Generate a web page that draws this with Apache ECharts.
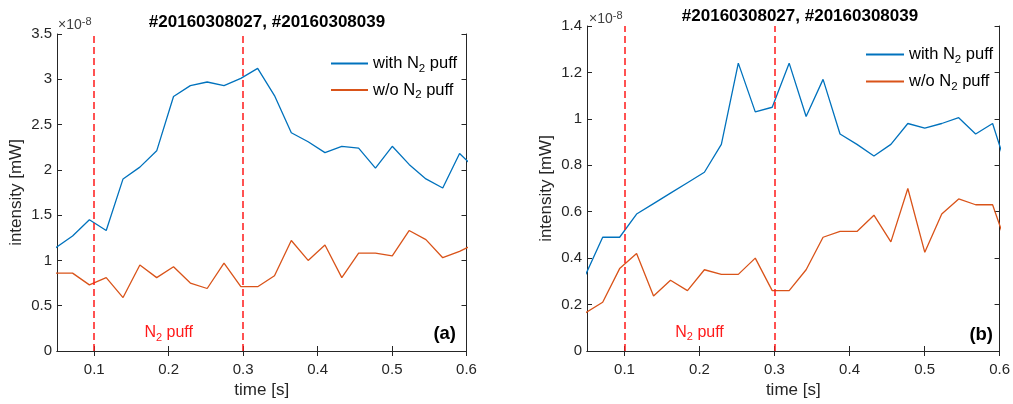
<!DOCTYPE html>
<html><head><meta charset="utf-8">
<script src="https://cdn.jsdelivr.net/npm/echarts@6/dist/echarts.min.js"></script>
<style>html,body{margin:0;padding:0;background:#fff}#c{width:1013px;height:404px}</style>
</head><body><div id="c"></div>
<script>
// ---- data (intensity in units of 1e-8 mW) ----
const times = [0.0483, 0.0709, 0.0935, 0.1161, 0.1387, 0.1613, 0.1839, 0.2065, 0.2291, 0.2517, 0.2743, 0.2969, 0.3195,
  0.3421, 0.3647, 0.3873, 0.4099, 0.4325, 0.4551, 0.4777, 0.5003, 0.5229, 0.5455, 0.5681, 0.5907, 0.6133];
const withPuffA = [1.14, 1.27, 1.45, 1.33, 1.90, 2.03, 2.21, 2.81, 2.93, 2.97, 2.93, 3.01, 3.12,
  2.82, 2.41, 2.31, 2.19, 2.26, 2.24, 2.02, 2.26, 2.06, 1.90, 1.80, 2.18, 2.00];
const woPuffA = [0.86, 0.86, 0.73, 0.81, 0.59, 0.95, 0.81, 0.93, 0.75, 0.69, 0.97, 0.71, 0.71,
  0.83, 1.22, 1.00, 1.17, 0.81, 1.08, 1.08, 1.05, 1.33, 1.23, 1.03, 1.10, 1.19];
const withPuffB = [0.33, 0.49, 0.49, 0.59, 0.635, 0.68, 0.725, 0.77, 0.89, 1.24, 1.03, 1.05, 1.24,
  1.01, 1.17, 0.935, 0.89, 0.84, 0.89, 0.98, 0.96, 0.98, 1.005, 0.935, 0.98, 0.75];
const woPuffB = [0.165, 0.21, 0.355, 0.42, 0.237, 0.305, 0.26, 0.35, 0.33, 0.33, 0.40, 0.26, 0.26,
  0.35, 0.49, 0.515, 0.515, 0.585, 0.47, 0.70, 0.425, 0.59, 0.655, 0.63, 0.63, 0.42];
const seriesNames = ['with N2 puff', 'w/o N2 puff'];
const xTicks = [0.1, 0.2, 0.3, 0.4, 0.5, 0.6];
const yRangeA = [0, 3.5, 0.5];
const yRangeB = [0, 1.4, 0.2];
const xRange = [0.05, 0.6];
const puffTimes = [0.1, 0.3];
const puffLabelA = [0.2, 0.2];
const puffLabelB = [0.2, 0.08];
const titleText = '#20160308027, #20160308039';
const panelLabels = ['(a)', '(b)'];

// ---- chart ----
const FONT = '"Liberation Sans", Arial, Helvetica, sans-serif';
const AX = '#262626';
const BLUE = '#0072BD', ORANGE = '#D95319';
const chart = echarts.init(document.getElementById('c'), null, {renderer: 'canvas'});

const grids = [
  {left: 57, top: 34, right: 546.5, bottom: 51},
  {left: 587, top: 26, right: 9.5, bottom: 52}
];
const zip = (ys) => times.map((t, i) => [t, ys[i]]);

function xAxes(gi) {
  return [
    {gridIndex: gi, type: 'value', min: xRange[0], max: xRange[1], position: 'bottom',
     name: 'time [s]', nameLocation: 'middle', nameGap: 31,
     nameTextStyle: {fontFamily: FONT, fontSize: 17, color: AX},
     axisLine: {lineStyle: {color: AX, width: 1}},
     axisTick: {inside: true, length: 5, lineStyle: {color: AX}, customValues: xTicks},
     axisLabel: {fontFamily: FONT, fontSize: 15, color: AX, margin: 11, customValues: xTicks},
     splitLine: {show: false}},
    {gridIndex: gi, type: 'value', min: xRange[0], max: xRange[1], position: 'top',
     axisLine: {lineStyle: {color: AX, width: 1}},
     axisTick: {inside: true, length: 5, lineStyle: {color: AX}, customValues: xTicks},
     axisLabel: {show: false}, splitLine: {show: false}}
  ];
}
function yAxes(gi, r) {
  return [
    {gridIndex: gi, type: 'value', min: r[0], max: r[1], interval: r[2], position: 'left',
     name: 'intensity [mW]', nameLocation: 'middle', nameGap: 32, nameRotate: 90,
     nameTextStyle: {fontFamily: FONT, fontSize: 17, color: AX},
     axisLine: {show: true, lineStyle: {color: AX, width: 1}},
     axisTick: {show: true, inside: true, length: 5, lineStyle: {color: AX}},
     axisLabel: {fontFamily: FONT, fontSize: 15, color: AX, margin: 5},
     splitLine: {show: false}},
    {gridIndex: gi, type: 'value', min: r[0], max: r[1], interval: r[2], position: 'right',
     axisLine: {show: true, lineStyle: {color: AX, width: 1}},
     axisTick: {show: true, inside: true, length: 5, lineStyle: {color: AX}},
     axisLabel: {show: false}, splitLine: {show: false}}
  ];
}
const subRich = {
  n: {fontFamily: FONT, fontSize: 16.5, color: '#000'},
  s: {fontFamily: FONT, fontSize: 11.5, color: '#000', padding: [10, 0, 0, 0]}
};
const redRich = {
  n: {fontFamily: FONT, fontSize: 16, color: '#ff1a1a'},
  s: {fontFamily: FONT, fontSize: 11, color: '#ff1a1a', padding: [10, 0, 0, 0]}
};
const fmtSub = (s) => s.split('N2').map(p => '{n|' + p + '}').join('{n|N}{s|2}');

function lineSeries(name, ys, color, xi, yi, extra) {
  return Object.assign({
    type: 'line', name, data: zip(ys), xAxisIndex: xi, yAxisIndex: yi,
    showSymbol: false, symbol: 'none', clip: true, animation: false,
    lineStyle: {color, width: 1.3}, itemStyle: {color}
  }, extra || {});
}
function marks(labelPos) {
  return {
    markLine: {silent: true, symbol: 'none', animation: false,
      lineStyle: {color: '#ff1a1a', type: [7, 4], width: 1.5},
      label: {show: false},
      data: puffTimes.map(t => ({xAxis: t}))},
    markPoint: {silent: true, animation: false, symbol: 'circle', symbolSize: 0,
      data: [{coord: labelPos}],
      label: {show: true, position: 'inside', formatter: fmtSub('N2 puff'), rich: redRich}}
  };
}

const option = {
  backgroundColor: '#fff',
  animation: false,
  title: [
    {text: titleText, left: 262, top: 9, textAlign: 'center',
     textStyle: {fontFamily: FONT, fontSize: 17, fontWeight: 'bold', color: '#000'}},
    {text: titleText, left: 795, top: 3, textAlign: 'center',
     textStyle: {fontFamily: FONT, fontSize: 17, fontWeight: 'bold', color: '#000'}}
  ],
  grid: grids,
  xAxis: [...xAxes(0), ...xAxes(1)],
  yAxis: [...yAxes(0, yRangeA), ...yAxes(1, yRangeB)],
  legend: [
    {data: seriesNames, orient: 'vertical', left: 331, top: 55, itemWidth: 37, itemHeight: 2,
     icon: 'rect', itemGap: 7, selectedMode: false, padding: 0,
     formatter: fmtSub, textStyle: {fontFamily: FONT, fontSize: 16.5, color: '#000', rich: subRich}},
    {data: seriesNames, orient: 'vertical', left: 866, top: 46, itemWidth: 38, itemHeight: 2,
     icon: 'rect', itemGap: 7.5, selectedMode: false, padding: 0,
     formatter: fmtSub, textStyle: {fontFamily: FONT, fontSize: 16.5, color: '#000', rich: subRich}}
  ],
  graphic: [
    {type: 'text', left: 58, top: 16, style: {text: '×10{e|-8}', fontFamily: FONT, fontSize: 14, fill: '#404040',
      rich: {e: {fontFamily: FONT, fontSize: 11, fill: '#404040', padding: [0, 0, 8, 0]}}}},
    {type: 'text', left: 589, top: 10, style: {text: '×10{e|-8}', fontFamily: FONT, fontSize: 14, fill: '#404040',
      rich: {e: {fontFamily: FONT, fontSize: 11, fill: '#404040', padding: [0, 0, 8, 0]}}}},
    {type: 'text', right: 1013 - 456, bottom: 404 - 343, style: {text: panelLabels[0], fontFamily: FONT, fontSize: 18.5, fontWeight: 'bold', fill: '#000'}},
    {type: 'text', right: 1013 - 993, bottom: 404 - 344, style: {text: panelLabels[1], fontFamily: FONT, fontSize: 18.5, fontWeight: 'bold', fill: '#000'}}
  ],
  series: [
    lineSeries(seriesNames[0], withPuffA, BLUE, 0, 0, marks(puffLabelA)),
    lineSeries(seriesNames[1], woPuffA, ORANGE, 0, 0),
    lineSeries(seriesNames[0], withPuffB, BLUE, 2, 2, marks(puffLabelB)),
    lineSeries(seriesNames[1], woPuffB, ORANGE, 2, 2)
  ]
};
chart.setOption(option);
</script></body></html>
